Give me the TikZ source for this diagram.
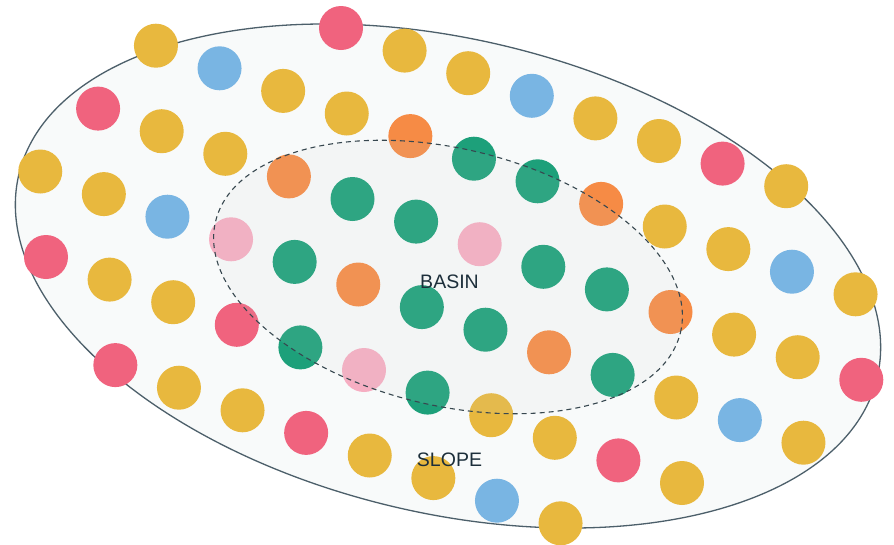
\documentclass[tikz,border=0pt]{standalone}
\usepackage{fontspec}
\setmainfont{Liberation Sans}
\definecolor{dyel}{HTML}{E8B83E}
\definecolor{dblu}{HTML}{79B5E3}
\definecolor{dred}{HTML}{F0637E}
\definecolor{dgrn}{HTML}{1DA07A}
\definecolor{dora}{HTML}{F68B45}
\definecolor{dpnk}{HTML}{F6AEC2}
\definecolor{outerfill}{HTML}{F8FAFA}
\definecolor{innerfill}{HTML}{C8D2D2}
\definecolor{rimline}{HTML}{4C5F6A}
\definecolor{dashline}{HTML}{37474F}
\definecolor{txt}{HTML}{1C2E3A}
\newcommand\dotat[3]{\fill[fill=#3] ({341+63.6*(#1)+5.75*(#2)},{28+22.6*(#1)+85.5*(#2)}) circle[radius=22pt];}
\tikzset{
  rim/.style={draw=rimline, line width=1.3pt, fill=outerfill},
  basinrim/.style={draw=dashline, line width=1.1pt, dash pattern=on 5pt off 4pt, fill=innerfill, fill opacity=0.1, draw opacity=1},
  lbl/.style={text=txt, font=\fontsize{19.5}{22}\selectfont, inner sep=0pt, anchor=base}
}
\begin{document}
\begin{tikzpicture}[x=1pt,y=-1pt]
\useasboundingbox (0,0) rectangle (894,544);
\fill[white] (0,0) rectangle (894,544);
% outer slope
\path[rim, rotate around={-13.3:(448,276)}] (448,276) ellipse [x radius=441pt, y radius=237pt];
% dots
\foreach \c [count=\i from 0] in {dred,dyel,dyel,dblu,dyel,dyel,dred,dyel} {\dotat{\i}{0}{\c}}
\foreach \c [count=\i from -3] in {dyel,dblu,dyel,dyel,dora,dgrn,dgrn,dora,dyel,dyel,dblu,dyel} {\dotat{\i}{1}{\c}}
\foreach \c [count=\i from -4] in {dred,dyel,dyel,dora,dgrn,dgrn,dpnk,dgrn,dgrn,dora,dyel,dyel,dred} {\dotat{\i}{2}{\c}}
\foreach \c [count=\i from -5] in {dyel,dyel,dblu,dpnk,dgrn,dora,dgrn,dgrn,dora,dgrn,dyel,dblu,dyel} {\dotat{\i}{3}{\c}}
\foreach \c [count=\i from -5] in {dred,dyel,dyel,dred,dgrn,dpnk,dgrn,dyel,dyel,dred,dyel} {\dotat{\i}{4}{\c}}
\foreach \c [count=\i from -4] in {dred,dyel,dyel,dred,dyel,dyel,dblu,dyel} {\dotat{\i}{5}{\c}}
% inner basin
\path[basinrim, rotate around={-13.4:(448,277)}] (448,277) ellipse [x radius=239pt, y radius=128.5pt];
% labels
\node[lbl] (basin) at (449.5,288) {BASIN};
\node[lbl] (slope) at (449.5,466) {SLOPE};
\end{tikzpicture}
\end{document}
